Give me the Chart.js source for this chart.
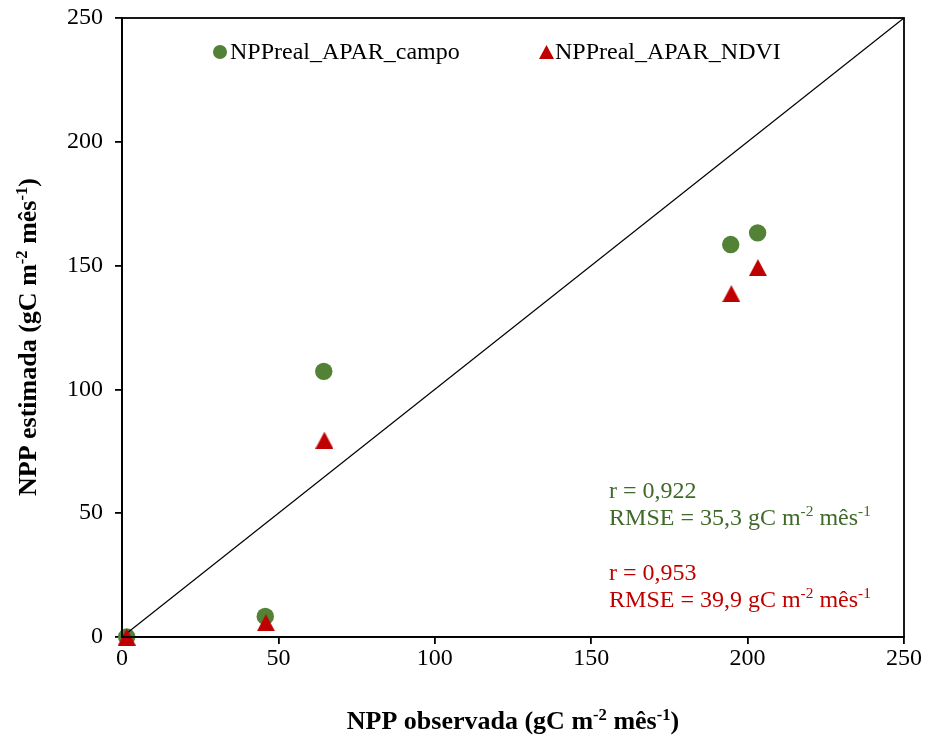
<!DOCTYPE html>
<html>
<head>
<meta charset="utf-8">
<script src="https://cdn.jsdelivr.net/npm/chart.js@4.4.1/dist/chart.umd.min.js"></script>
<style>
  html, body { margin: 0; padding: 0; background: #fff; }
</style>
</head>
<body>
<canvas id="npp" width="926" height="735"></canvas>
<script>
// NPP observed (x) vs estimated (y), gC m-2 mes-1
const campoObs = [1.5, 45.8, 64.5, 194.6, 203.2];
const campoEst = [0, 8.3, 107.3, 158.5, 163.2];
const ndviObs = [1.5, 46.0, 64.7, 194.8, 203.3];
const ndviEst = [0, 5.8, 79.5, 138.7, 149.2];
const oneToOne = [0, 250];
const axisTicks = [0, 50, 100, 150, 200, 250];
const seriesNames = ['NPPreal_APAR_campo', 'NPPreal_APAR_NDVI'];
const campoStats = ['r = 0,922', 'RMSE = 35,3 gC m|-2| mês|-1|'];
const ndviStats = ['r = 0,953', 'RMSE = 39,9 gC m|-2| mês|-1|'];
const xTitle = 'NPP observada (gC m|-2| mês|-1|)';
const yTitle = 'NPP estimada (gC m|-2| mês|-1|)';

const GREEN = '#538135';
const GREEN_TXT = '#3f6a29';
const RED = '#c00000';
const SERIF = '"Liberation Serif", "Times New Roman", serif';

// excel-like triangle marker (centred on its box)
function triangleMarker(w, h, color) {
    const c = document.createElement('canvas');
    c.width = w; c.height = h;
    const g = c.getContext('2d');
    g.fillStyle = color;
    g.beginPath();
    g.moveTo(w / 2, 0);
    g.lineTo(w, h);
    g.lineTo(0, h);
    g.closePath();
    g.fill();
    return c;
}
const triBig = triangleMarker(18, 17, RED);

// text with |superscript| parts
function richText(ctx, str, x, y, size, bold, align) {
    const parts = str.split('|');
    const w = (bold ? 'bold ' : '');
    const supSize = size * 0.64;
    let total = 0;
    parts.forEach((p, i) => {
        ctx.font = w + (i % 2 ? supSize : size) + 'px ' + SERIF;
        total += ctx.measureText(p).width;
    });
    let cx = align === 'center' ? x - total / 2 : x;
    ctx.textAlign = 'left';
    ctx.textBaseline = 'alphabetic';
    parts.forEach((p, i) => {
        const sup = i % 2 === 1;
        ctx.font = w + (sup ? supSize : size) + 'px ' + SERIF;
        ctx.fillText(p, cx, sup ? y - size * 0.36 : y);
        cx += ctx.measureText(p).width;
    });
}

const extras = {
    id: 'extras',
    afterDraw(chart) {
        const ctx = chart.ctx;
        const a = chart.chartArea;
        const xs = chart.scales.x;
        ctx.save();
        // frame
        ctx.strokeStyle = '#000';
        ctx.lineWidth = 1.8;
        ctx.strokeRect(a.left, a.top, a.right - a.left, a.bottom - a.top);

        // legend inside plot
        ctx.fillStyle = GREEN;
        ctx.beginPath();
        ctx.arc(220, 52, 7, 0, Math.PI * 2);
        ctx.fill();
        ctx.drawImage(triangleMarker(15, 14, RED), 539, 45);
        ctx.fillStyle = '#000';
        ctx.font = '24px ' + SERIF;
        ctx.textBaseline = 'middle';
        ctx.textAlign = 'left';
        ctx.fillText(seriesNames[0], 230, 53);
        ctx.fillText(seriesNames[1], 555, 53);

        // stats
        const sx = xs.getPixelForValue(155.7);
        ctx.fillStyle = GREEN_TXT;
        richText(ctx, campoStats[0], sx, 498, 24, false);
        richText(ctx, campoStats[1], sx, 525, 24, false);
        ctx.fillStyle = RED;
        richText(ctx, ndviStats[0], sx, 580, 24, false);
        richText(ctx, ndviStats[1], sx, 607, 24, false);

        // axis titles
        ctx.fillStyle = '#000';
        richText(ctx, xTitle, (a.left + a.right) / 2, 729, 26, true, 'center');
        ctx.translate(36, 337);
        ctx.rotate(-Math.PI / 2);
        richText(ctx, yTitle, 0, 0, 26, true, 'center');
        ctx.restore();
    }
};

const axisCommon = {
    type: 'linear',
    min: 0,
    max: 250,
    afterBuildTicks: s => { s.ticks = axisTicks.map(v => ({ value: v })); },
    grid: { drawOnChartArea: false, drawTicks: true, tickLength: 7, color: '#000', lineWidth: 1.8 },
    border: { display: true, color: '#000', width: 1.8 },
    ticks: { color: '#000', font: { family: SERIF, size: 24 } }
};

new Chart(document.getElementById('npp'), {
    type: 'scatter',
    data: {
        datasets: [
            {
                label: seriesNames[1],
                data: ndviObs.map((x, i) => ({ x, y: ndviEst[i] })),
                pointStyle: triBig,
                pointRadius: 9,
                backgroundColor: RED,
                clip: false,
                order: 0
            },
            {
                label: '1:1',
                data: oneToOne.map(v => ({ x: v, y: v })),
                showLine: true,
                borderColor: '#000',
                borderWidth: 1.3,
                pointRadius: 0,
                order: 1
            },
            {
                label: seriesNames[0],
                data: campoObs.map((x, i) => ({ x, y: campoEst[i] })),
                pointStyle: 'circle',
                pointRadius: 8.7,
                borderWidth: 0,
                backgroundColor: GREEN,
                clip: false,
                order: 2
            }
        ]
    },
    options: {
        responsive: false,
        animation: false,
        devicePixelRatio: 1,
        layout: { padding: { left: 0, top: 18, right: 22, bottom: 0 } },
        plugins: { legend: { display: false }, tooltip: { enabled: false } },
        scales: {
            x: Object.assign({}, axisCommon, {
                position: 'bottom',
                ticks: Object.assign({}, axisCommon.ticks, { padding: 0 }),
                afterFit: s => { s.height = 98; s.paddingLeft = 0; s.paddingRight = 0; }
            }),
            y: Object.assign({}, axisCommon, {
                position: 'left',
                ticks: Object.assign({}, axisCommon.ticks, { padding: 12 }),
                afterFit: s => { s.width = 122; s.paddingTop = 0; s.paddingBottom = 0; }
            })
        }
    },
    plugins: [extras]
});
</script>
</body>
</html>
